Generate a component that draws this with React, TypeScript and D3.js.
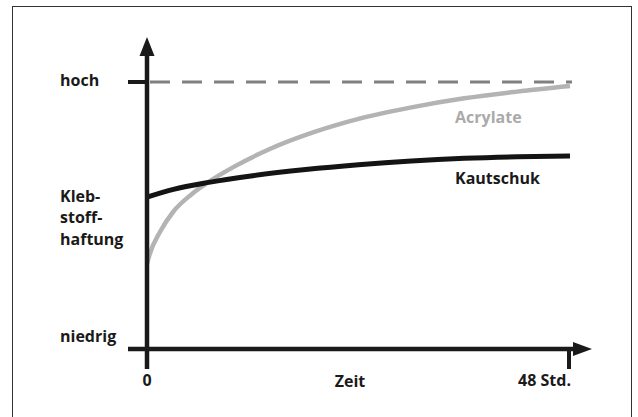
import React from "react";
import * as d3 from "d3";

const W = 638;
const H = 417;

// Data (hours, adhesion 0 = niedrig .. 100 = hoch)
const acrylateHours = [0, 0.3, 1.5, 3, 5, 7, 10, 14, 19, 24, 30, 36, 42, 48];
const acrylateValues = [32, 35.5, 44, 51.5, 57.8, 62.6, 68.5, 75, 81.3, 86.2, 90.5, 93.9, 96.4, 98.5];
const kautschukHours = [0, 3, 7, 12, 18, 24, 30, 36, 42, 48];
const kautschukValues = [56.9, 59.8, 62.4, 64.9, 67.2, 69.0, 70.4, 71.4, 72.0, 72.3];
const maxValue = 100;
const yTickValues = [0, 100];
const yTickLabels = ["niedrig", "hoch"];
const xTickValues = [0, 48];
const xTickLabels = ["0", "48 Std."];
const yTitle = ["Kleb-", "stoff-", "haftung"];
const xTitle = "Zeit";

const FONT = "'Open Sans', 'Noto Sans', sans-serif";
const INK = "#1a1a1a";

export default function App() {
  const x = d3.scaleLinear().domain([0, 48]).range([147, 570]);
  const y = d3.scaleLinear().domain([0, maxValue]).range([349, 82]);

  const line = d3
    .line<[number, number]>()
    .x((d) => x(d[0]))
    .y((d) => y(d[1]))
    .curve(d3.curveMonotoneX);

  const acr = acrylateHours.map((h, i) => [h, acrylateValues[i]] as [number, number]);
  const kau = kautschukHours.map((h, i) => [h, kautschukValues[i]] as [number, number]);

  const x0 = x(0);
  const y0 = y(0);
  const xEnd = x(48);

  return (
    <svg
      width={W}
      height={H}
      style={{ position: "fixed", left: 0, top: 0, display: "block", background: "#fff" }}
    >
      <rect x={12.5} y={6.5} width={619} height={440} fill="#fff" stroke="#333" strokeWidth={1} />

      {/* reference dashed line at hoch */}
      <line
        x1={x0 + 3}
        x2={xEnd + 2}
        y1={y(maxValue)}
        y2={y(maxValue)}
        stroke="#808080"
        strokeWidth={3}
        strokeDasharray="20 12"
      />

      {/* series */}
      <path d={line(acr) || ""} fill="none" stroke="#b3b3b3" strokeWidth={4.5} />
      <path d={line(kau) || ""} fill="none" stroke="#141414" strokeWidth={5} />

      {/* y axis */}
      <line x1={x0} x2={x0} y1={y0 + 20} y2={54} stroke={INK} strokeWidth={4.5} />
      <path d={`M${x0},37 L${x0 + 7.5},56 L${x0 - 7.5},56 Z`} fill={INK} />
      {/* x axis */}
      <line x1={128} x2={575} y1={y0} y2={y0} stroke={INK} strokeWidth={4.5} />
      <path d={`M592,${y0} L573,${y0 - 7} L573,${y0 + 7} Z`} fill={INK} />

      {/* y ticks */}
      {yTickValues.map((v, i) => (
        <g key={`yt${i}`}>
          {v === maxValue && (
            <line x1={128} x2={x0} y1={y(v)} y2={y(v)} stroke={INK} strokeWidth={4} />
          )}
          <text
            x={60}
            y={y(v) + (v === 0 ? -7 : 3.5)}
            fontFamily={FONT}
            fontWeight={700}
            fontSize={16}
            fill={INK}
          >
            {yTickLabels[i]}
          </text>
        </g>
      ))}

      {/* x ticks */}
      {xTickValues.map((v, i) => (
        <g key={`xt${i}`}>
          {v !== 0 && (
            <line x1={x(v) - 1} x2={x(v) - 1} y1={y0} y2={y0 + 20} stroke={INK} strokeWidth={4} />
          )}
          <text
            x={v === 0 ? x(v) : x(v) + 1}
            y={386}
            textAnchor={v === 0 ? "middle" : "end"}
            fontFamily={FONT}
            fontWeight={700}
            fontSize={16}
            fill={INK}
          >
            {xTickLabels[i]}
          </text>
        </g>
      ))}

      {/* axis titles */}
      <text x={350} y={387} textAnchor="middle" fontFamily={FONT} fontWeight={700} fontSize={16} fill={INK}>
        {xTitle}
      </text>
      {yTitle.map((t, i) => (
        <text key={t} x={60} y={201.5 + i * 21.7} fontFamily={FONT} fontWeight={700} fontSize={16} fill={INK}>
          {t}
        </text>
      ))}

      {/* series labels */}
      <text x={455} y={123} fontFamily={FONT} fontWeight={700} fontSize={16} fill="#aaaaaa">
        Acrylate
      </text>
      <text x={455} y={184} fontFamily={FONT} fontWeight={700} fontSize={16} fill={INK}>
        Kautschuk
      </text>
    </svg>
  );
}
